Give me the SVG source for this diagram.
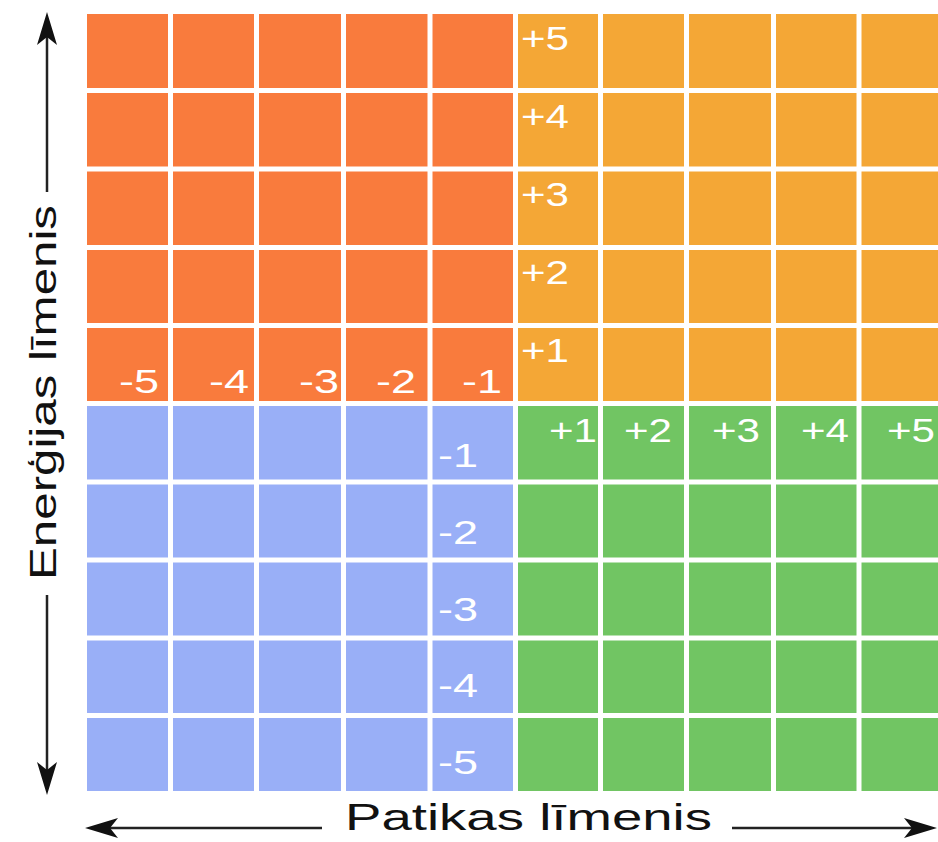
<svg xmlns="http://www.w3.org/2000/svg" width="938" height="842" viewBox="0 0 938 842">
<style>
.g{stroke:#fff;stroke-width:5;fill:none}
.lbl{font-family:"Liberation Sans",Arial,sans-serif;font-size:34px;fill:#fff}
.ax{font-family:"Liberation Sans",Arial,sans-serif;font-size:37px;fill:#111}
.axl{stroke:#222;stroke-width:2.5;fill:none}
.ah{fill:#111}
</style>
<defs>
<path id="head" d="M0,0 L-33,-10 L-25,0 L-33,10 Z"/>
</defs>
<g id="q-orange">
<rect x="87" y="14" width="429" height="390" fill="#F97B3D"/>
<path class="g" d="M170.5,14V404M256.5,14V404M343.5,14V404M430,14V404M87,90.5H516M87,169H516M87,247.5H516M87,325.5H516"/>
</g>
<g id="q-amber">
<rect x="516" y="14" width="422" height="390" fill="#F4A736"/>
<path class="g" d="M600.5,14V404M686.5,14V404M773.5,14V404M859,14V404M516,90.5H938M516,169H938M516,247.5H938M516,325.5H938"/>
</g>
<g id="q-blue">
<rect x="87" y="404" width="429" height="387" fill="#99AFF7"/>
<path class="g" d="M170.5,404V791M256.5,404V791M343.5,404V791M430,404V791M87,482H516M87,560H516M87,638H516M87,715.5H516"/>
</g>
<g id="q-green">
<rect x="516" y="404" width="422" height="387" fill="#71C563"/>
<path class="g" d="M600.5,404V791M686.5,404V791M773.5,404V791M859,404V791M516,482H938M516,560H938M516,638H938M516,715.5H938"/>
</g>
<g id="dividers">
<path class="g" d="M87,403.5H938M515.5,14V791"/>
</g>
<g id="labels-x-neg">
<text class="lbl" x="119" y="393" textLength="40" lengthAdjust="spacingAndGlyphs">-5</text>
<text class="lbl" x="209" y="393" textLength="40" lengthAdjust="spacingAndGlyphs">-4</text>
<text class="lbl" x="299" y="393" textLength="40" lengthAdjust="spacingAndGlyphs">-3</text>
<text class="lbl" x="376" y="393" textLength="40" lengthAdjust="spacingAndGlyphs">-2</text>
<text class="lbl" x="462" y="393" textLength="40" lengthAdjust="spacingAndGlyphs">-1</text>
</g>
<g id="labels-y-pos">
<text class="lbl" x="521" y="50" textLength="48" lengthAdjust="spacingAndGlyphs">+5</text>
<text class="lbl" x="521" y="128" textLength="48" lengthAdjust="spacingAndGlyphs">+4</text>
<text class="lbl" x="521" y="206" textLength="48" lengthAdjust="spacingAndGlyphs">+3</text>
<text class="lbl" x="521" y="284" textLength="48" lengthAdjust="spacingAndGlyphs">+2</text>
<text class="lbl" x="521" y="362" textLength="48" lengthAdjust="spacingAndGlyphs">+1</text>
</g>
<g id="labels-x-pos">
<text class="lbl" x="549" y="442" textLength="48" lengthAdjust="spacingAndGlyphs">+1</text>
<text class="lbl" x="624" y="442" textLength="48" lengthAdjust="spacingAndGlyphs">+2</text>
<text class="lbl" x="712" y="442" textLength="48" lengthAdjust="spacingAndGlyphs">+3</text>
<text class="lbl" x="801" y="442" textLength="48" lengthAdjust="spacingAndGlyphs">+4</text>
<text class="lbl" x="887" y="442" textLength="48" lengthAdjust="spacingAndGlyphs">+5</text>
</g>
<g id="labels-y-neg">
<text class="lbl" x="438" y="467" textLength="40" lengthAdjust="spacingAndGlyphs">-1</text>
<text class="lbl" x="438" y="544" textLength="40" lengthAdjust="spacingAndGlyphs">-2</text>
<text class="lbl" x="438" y="621" textLength="40" lengthAdjust="spacingAndGlyphs">-3</text>
<text class="lbl" x="438" y="697" textLength="40" lengthAdjust="spacingAndGlyphs">-4</text>
<text class="lbl" x="438" y="774" textLength="40" lengthAdjust="spacingAndGlyphs">-5</text>
</g>
<g id="connectors">
<path class="axl" d="M47,36V192M47,595V770"/>
<use href="#head" class="ah" transform="translate(47,12) rotate(-90)"/>
<use href="#head" class="ah" transform="translate(47,795) rotate(90)"/>
<path class="axl" d="M110,828H322M732,828H912"/>
<use href="#head" class="ah" transform="translate(85,828) rotate(180)"/>
<use href="#head" class="ah" transform="translate(937,828)"/>
</g>
<g id="axis-labels">
<text class="ax" x="345" y="830" textLength="367" lengthAdjust="spacingAndGlyphs">Patikas līmenis</text>
<text class="ax" transform="translate(56,580) rotate(-90)" x="0" y="0" textLength="375" lengthAdjust="spacingAndGlyphs">Enerģijas līmenis</text>
</g>
</svg>
